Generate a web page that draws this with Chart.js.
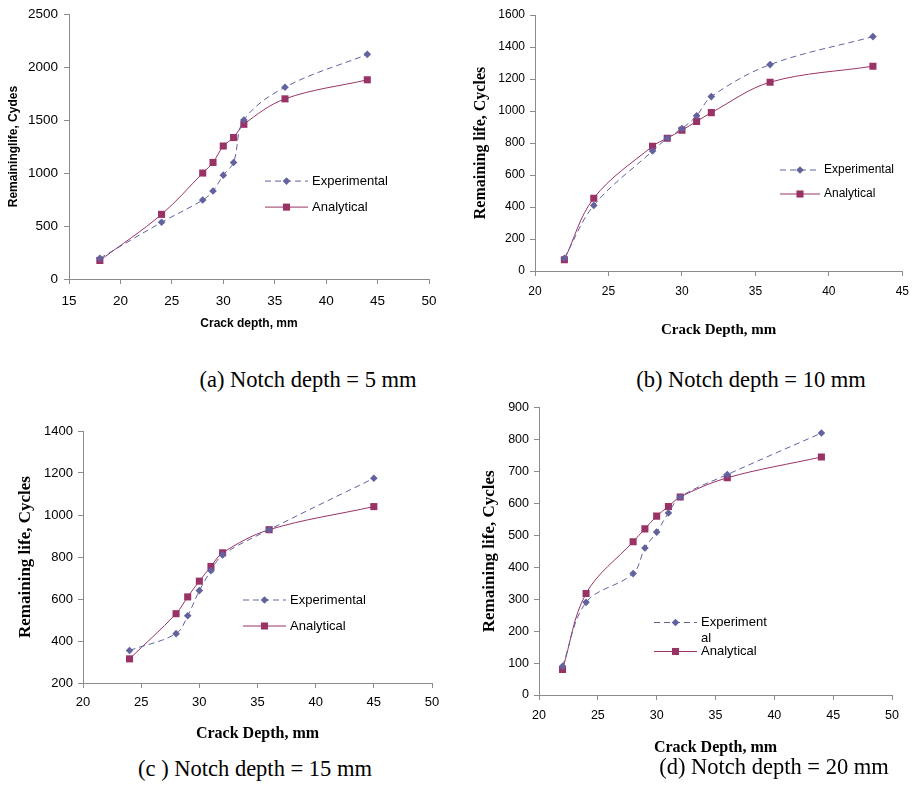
<!DOCTYPE html>
<html>
<head>
<meta charset="utf-8">
<script src="https://cdn.jsdelivr.net/npm/chart.js@4.4.1/dist/chart.umd.min.js"></script>
<style>
    body { margin: 0; background: #fff; width: 917px; height: 785px; position: relative; overflow: hidden; }
    canvas { position: absolute; }
    .cap {
        position: absolute;
        font-family: "Liberation Serif", "Times New Roman", serif;
        font-size: 22.5px;
        line-height: 24px;
        color: #000;
        white-space: nowrap;
        transform: translateX(-50%);
    }
</style>
</head>
<body>
<canvas id="chartA" width="450" height="340" style="left:0px;top:0px"></canvas>
<canvas id="chartB" width="457" height="345" style="left:460px;top:0px"></canvas>
<canvas id="chartC" width="450" height="345" style="left:0px;top:410px"></canvas>
<canvas id="chartD" width="457" height="370" style="left:460px;top:395px"></canvas>
<div class="cap" style="left:308px;top:368px">(a) Notch depth = 5 mm</div>
<div class="cap" style="left:751px;top:368px">(b) Notch depth = 10 mm</div>
<div class="cap" style="left:255px;top:757px">(c ) Notch depth = 15 mm</div>
<div class="cap" style="left:774px;top:755px">(d) Notch depth = 20 mm</div>
<script>
// crack depth (mm) vs remaining life (cycles)
const depthA = [18, 24, 28, 29, 30, 31, 32, 36, 44];
const expA = [195, 535, 745, 830, 980, 1100, 1500, 1810, 2120];
const anaA = [175, 610, 1000, 1100, 1255, 1335, 1460, 1700, 1880];

const depthB = [22, 24, 28, 29, 30, 31, 32, 36, 43];
const expB = [80, 410, 750, 830, 890, 970, 1090, 1290, 1465];
const anaB = [70, 455, 780, 830, 880, 935, 990, 1180, 1280];

const depthC = [24, 28, 29, 30, 31, 32, 36, 45];
const expC = [355, 435, 520, 640, 735, 810, 930, 1175];
const anaC = [315, 530, 610, 685, 755, 820, 930, 1040];

const depthD = [22, 24, 28, 29, 30, 31, 32, 36, 44];
const expD = [90, 290, 380, 460, 510, 570, 620, 690, 820];
const anaD = [80, 318, 480, 520, 560, 590, 620, 680, 745];

const seriesNames = ["Experimental", "Analytical"];

const expColor = "#62629f";
const anaColor = "#993366";
const sans = "'Liberation Sans', Arial, sans-serif";
const serif = "'Liberation Serif', 'Times New Roman', serif";

function toPoints(xs, ys) {
    return xs.map((x, i) => ({ x: x, y: ys[i] }));
}

function drawMarker(ctx, style, x, y, r) {
    ctx.beginPath();
    if (style === "rectRot") {
        ctx.moveTo(x - r, y);
        ctx.lineTo(x, y - r);
        ctx.lineTo(x + r, y);
        ctx.lineTo(x, y + r);
    } else {
        const s = r * Math.SQRT1_2;
        ctx.rect(x - s, y - s, 2 * s, 2 * s);
    }
    ctx.closePath();
    ctx.fill();
}

// legend drawn inside the plot area, like the Excel originals
const insideLegend = {
    id: "insideLegend",
    afterDraw(chart, args, opts) {
        const ctx = chart.ctx;
        const area = chart.chartArea;
        ctx.save();
        ctx.font = opts.font;
        ctx.textBaseline = "middle";
        chart.data.datasets.forEach((ds, i) => {
            const x = area.left + opts.dx;
            const y = area.top + opts.dy + opts.rows[i];
            ctx.strokeStyle = ds.borderColor;
            ctx.lineWidth = ds.borderWidth;
            ctx.setLineDash(ds.borderDash || []);
            ctx.beginPath();
            ctx.moveTo(x, y);
            ctx.lineTo(x + opts.lineLen, y);
            ctx.stroke();
            ctx.setLineDash([]);
            ctx.fillStyle = ds.pointBackgroundColor;
            drawMarker(ctx, ds.pointStyle, x + opts.lineLen / 2, y, ds.pointRadius);
            ctx.fillStyle = "#000";
            const lines = (opts.split && opts.split[ds.label]) || [ds.label];
            lines.forEach((t, k) => {
                ctx.fillText(t, x + opts.lineLen + 4, y + k * opts.lineHeight);
            });
        });
        ctx.restore();
    },
};

function makeDatasets(xs, e, a) {
    return [
        {
            label: seriesNames[0],
            data: toPoints(xs, e),
            borderColor: expColor,
            borderWidth: 1,
            borderDash: [6, 4],
            pointStyle: "rectRot",
            pointRadius: 3.8,
            pointBackgroundColor: expColor,
            pointBorderWidth: 0,
            tension: 0.35,
        },
        {
            label: seriesNames[1],
            data: toPoints(xs, a),
            borderColor: anaColor,
            borderWidth: 1,
            pointStyle: "rect",
            pointRadius: 5,
            pointBackgroundColor: anaColor,
            pointBorderWidth: 0,
            tension: 0.35,
        },
    ];
}

function makeChart(id, s) {
    const ctx = document.getElementById(id).getContext("2d");
    return new Chart(ctx, {
        type: "line",
        data: { datasets: makeDatasets(s.xs, s.exp, s.ana) },
        plugins: [insideLegend],
        options: {
            responsive: false,
            animation: false,
            devicePixelRatio: 1,
            layout: { padding: { top: s.padTop, right: s.padRight, left: 0, bottom: 0 } },
            plugins: {
                legend: { display: false },
                tooltip: { enabled: false },
                insideLegend: s.legend,
            },
            scales: {
                x: {
                    type: "linear",
                    min: s.xMin,
                    max: s.xMax,
                    afterFit: (scale) => { scale.height = s.xAxisH; },
                    ticks: {
                        stepSize: 5,
                        color: "#000",
                        padding: s.xTickPad,
                        font: { family: sans, size: s.tickSize },
                        callback: (v) => String(v),
                    },
                    grid: { drawOnChartArea: false, drawTicks: true, tickLength: 5, color: "#8c8c8c" },
                    border: { color: "#8c8c8c", width: 1 },
                    title: {
                        display: true,
                        text: s.xTitle,
                        color: "#000",
                        font: s.xTitleFont,
                        padding: { top: 0, bottom: s.xTitlePad },
                    },
                },
                y: {
                    min: s.yMin,
                    max: s.yMax,
                    afterFit: (scale) => { scale.width = s.yAxisW; },
                    ticks: {
                        stepSize: s.yStep,
                        color: "#000",
                        padding: s.yTickPad,
                        font: { family: sans, size: s.tickSize },
                        callback: (v) => String(v),
                    },
                    grid: { drawOnChartArea: false, drawTicks: true, tickLength: 5, color: "#8c8c8c" },
                    border: { color: "#8c8c8c", width: 1 },
                    title: {
                        display: true,
                        text: s.yTitle,
                        color: "#000",
                        font: s.yTitleFont,
                        padding: { top: s.yTitlePad, bottom: 0 },
                    },
                },
            },
        },
    });
}

makeChart("chartA", {
    xs: depthA, exp: expA, ana: anaA,
    xMin: 15, xMax: 50, yMin: 0, yMax: 2500, yStep: 500,
    padTop: 13, padRight: 21, yAxisW: 69, xAxisH: 61,
    tickSize: 13.5, xTickPad: 9, yTickPad: 6,
    xTitle: "Crack depth, mm", xTitleFont: { family: sans, size: 12, weight: "bold" }, xTitlePad: 9,
    yTitle: "Remaininglife, Cydes", yTitleFont: { family: sans, size: 12, weight: "bold" }, yTitlePad: 6,
    legend: { dx: 196, dy: 167, rows: [0, 26], lineLen: 43, font: "13px " + sans, lineHeight: 16 },
});

makeChart("chartB", {
    xs: depthB, exp: expB, ana: anaB,
    xMin: 20, xMax: 45, yMin: 0, yMax: 1600, yStep: 200,
    padTop: 15, padRight: 12, yAxisW: 75, xAxisH: 74,
    tickSize: 12, xTickPad: 8, yTickPad: 5,
    xTitle: "Crack Depth, mm", xTitleFont: { family: serif, size: 15, weight: "bold" }, xTitlePad: 6,
    yTitle: "Remaining life, Cycles", yTitleFont: { family: serif, size: 16, weight: "bold" }, yTitlePad: 11,
    legend: { dx: 245, dy: 155, rows: [0, 24], lineLen: 40, font: "12px " + sans, lineHeight: 15 },
});

makeChart("chartC", {
    xs: depthC, exp: expC, ana: anaC,
    xMin: 20, xMax: 50, yMin: 200, yMax: 1400, yStep: 200,
    padTop: 21, padRight: 18, yAxisW: 83, xAxisH: 72,
    tickSize: 13, xTickPad: 7, yTickPad: 5,
    xTitle: "Crack Depth, mm", xTitleFont: { family: serif, size: 16, weight: "bold" }, xTitlePad: 12,
    yTitle: "Remaining life, Cycles", yTitleFont: { family: serif, size: 17, weight: "bold" }, yTitlePad: 15,
    legend: { dx: 160, dy: 169, rows: [0, 26], lineLen: 43, font: "13px " + sans, lineHeight: 16 },
});

makeChart("chartD", {
    xs: depthD, exp: expD, ana: anaD,
    xMin: 20, xMax: 50, yMin: 0, yMax: 900, yStep: 100,
    padTop: 11, padRight: 25, yAxisW: 79, xAxisH: 70,
    tickSize: 12.5, xTickPad: 8, yTickPad: 5,
    xTitle: "Crack Depth, mm", xTitleFont: { family: serif, size: 16, weight: "bold" }, xTitlePad: 8,
    yTitle: "Remaining life, Cycles", yTitleFont: { family: serif, size: 17, weight: "bold" }, yTitlePad: 19,
    legend: {
        dx: 115, dy: 215, rows: [0, 29], lineLen: 43, font: "13px " + sans, lineHeight: 16,
        split: { Experimental: ["Experiment", "al"] },
    },
});
</script>
</body>
</html>
